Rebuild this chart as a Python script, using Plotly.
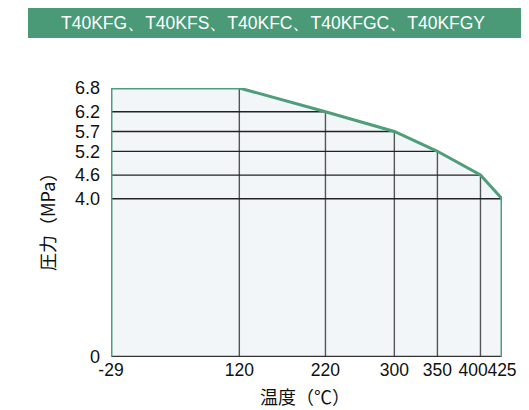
import plotly.graph_objects as go

# rated pressure vs temperature
temps = [-29, 120, 220, 300, 350, 400, 425]
pressures = [6.8, 6.8, 6.2, 5.7, 5.2, 4.6, 4.0]

x_ticks = [-29, 120, 220, 300, 350, 400, 425]
# the 400 label sits a touch left in the original so it doesn't run into 425
x_labels = ["-29", "120", "220", "300", "350", "400\u00a0\u00a0\u00a0", "425"]
y_ticks = [0, 4.0, 4.6, 5.2, 5.7, 6.2, 6.8]
y_labels = ["0", "4.0", "4.6", "5.2", "5.7", "6.2", "6.8"]

title_text = "T40KFG、T40KFS、T40KFC、T40KFGC、T40KFGY"
green = "#4e9e7a"
font = "Liberation Sans, Arial, sans-serif"
cjk = "Noto Sans CJK JP, sans-serif"

# page has an 8px body margin, so the figure is 8px smaller than the window
W, H = 521, 402
L, R, T, B = 103, 27, 80, 53
pw, ph = W - L - R, H - T - B

def px_x(x):
    # window pixel -> paper coord
    return (x - 8 - L) / pw

def px_y(y):
    return (H - B - (y - 8)) / ph

fig = go.Figure()

# shaded area under the curve
fig.add_trace(go.Scatter(x=temps, y=pressures, fill="tozeroy",
                         fillcolor="#f3f6f9", line=dict(width=0),
                         mode="lines", hoverinfo="skip"))

# grid: horizontal lines from left edge to curve, vertical lines from 0 to curve
hx, hy, vx, vy = [], [], [], []
for t, p in zip(temps[2:], pressures[2:]):
    hx += [temps[0], t, None]
    hy += [p, p, None]
for t, p in zip(temps[1:-1], pressures[1:-1]):
    vx += [t, t, None]
    vy += [0, p, None]
fig.add_trace(go.Scatter(x=vx, y=vy, mode="lines",
                         line=dict(color="#555555", width=1.4), hoverinfo="skip"))
fig.add_trace(go.Scatter(x=hx, y=hy, mode="lines",
                         line=dict(color="#222222", width=1.3), hoverinfo="skip"))

# bottom axis line
fig.add_trace(go.Scatter(x=[temps[0], temps[-1]], y=[0, 0], mode="lines",
                         line=dict(color="#333333", width=2.5), hoverinfo="skip"))

# green outline
ox = [temps[0]] + temps + [temps[-1]]
oy = [0] + pressures + [0]
fig.add_trace(go.Scatter(x=ox, y=oy, mode="lines",
                         line=dict(color=green, width=3), hoverinfo="skip"))

fig.update_layout(
    width=W, height=H,
    margin=dict(l=L, r=R, t=T, b=B, autoexpand=False),
    paper_bgcolor="white", plot_bgcolor="white",
    showlegend=False,
    font=dict(family=font, color="#111111", size=18),
    xaxis=dict(range=[-29, 425], tickvals=x_ticks, ticktext=x_labels,
               tickangle=0, automargin=False,
               showgrid=False, zeroline=False, showline=False, ticks="",
               tickfont=dict(size=17.5), fixedrange=True),
    yaxis=dict(range=[0, 6.8], tickvals=y_ticks, ticktext=y_labels,
               automargin=False,
               showgrid=False, zeroline=False, showline=False, ticks="",
               tickfont=dict(size=18), fixedrange=True, ticklabelstandoff=10),
    shapes=[dict(type="rect", xref="paper", yref="paper",
                 x0=px_x(28), x1=px_x(526), y0=px_y(38), y1=px_y(7),
                 fillcolor="#4a9a78", line=dict(width=0), layer="below")],
    annotations=[
        dict(text=title_text, xref="paper", yref="paper",
             x=px_x(273), y=px_y(23), showarrow=False,
             xanchor="center", yanchor="middle",
             font=dict(color="white", size=17.5, family=font)),
        dict(text="温度（℃）", xref="paper", yref="paper",
             x=px_x(305), y=px_y(396), showarrow=False,
             xanchor="center", yanchor="middle",
             font=dict(size=18, family=cjk)),
        dict(text="圧力（MPa）", xref="paper", yref="paper",
             x=px_x(47), y=px_y(218), showarrow=False, textangle=-90,
             xanchor="center", yanchor="middle",
             font=dict(size=18, family=cjk)),
    ],
)

fig.write_html("out.html")
